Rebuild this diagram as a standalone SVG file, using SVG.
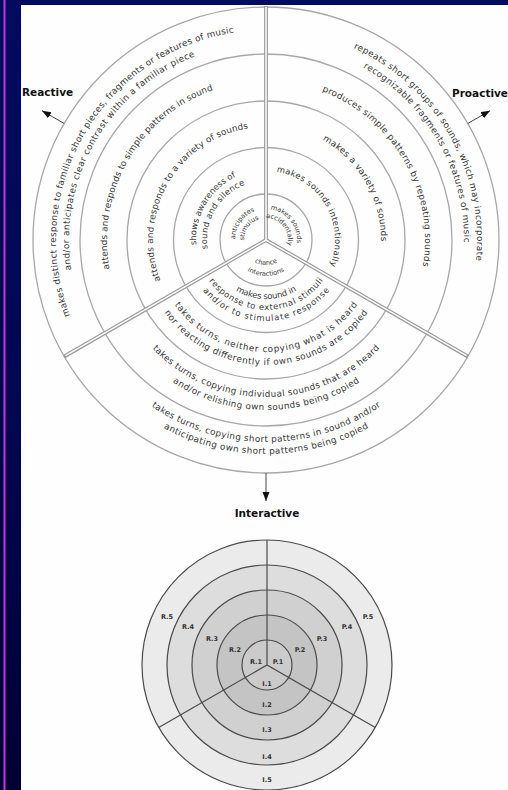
<svg xmlns="http://www.w3.org/2000/svg" width="508" height="790" viewBox="0 0 508 790">
<defs>
<linearGradient id="bg" x1="0" y1="0" x2="0" y2="1">
<stop offset="0" stop-color="#020b60"/>
<stop offset="0.5" stop-color="#010850"/>
<stop offset="1" stop-color="#000034"/>
</linearGradient>
<marker id="ah" markerUnits="userSpaceOnUse" markerWidth="10" markerHeight="8" refX="9" refY="3.5" orient="auto">
<path d="M0,0 L9,3.5 L0,7 z" fill="#111"/>
</marker>
<path id="c210" d="M59.19,276.46 A210,210 0 1 1 472.81,276.46"/>
<path id="c197" d="M71.99,274.20 A197,197 0 1 1 460.01,274.20"/>
<path id="c211" d="M58.21,276.63 A211,211 0 1 1 473.79,276.63"/>
<path id="c198" d="M71.01,274.37 A198,198 0 1 1 460.99,274.37"/>
<path id="c159" d="M109.42,267.60 A159,159 0 1 1 422.58,267.60"/>
<path id="c113" d="M154.72,259.62 A113,113 0 1 1 377.28,259.62"/>
<path id="c115" d="M152.75,259.96 A115,115 0 1 1 379.25,259.96"/>
<path id="c70" d="M197.06,252.15 A70,70 0 1 1 334.94,252.15"/>
<path id="c59" d="M207.90,250.24 A59,59 0 1 1 324.10,250.24"/>
<path id="c69" d="M198.05,251.98 A69,69 0 1 1 333.95,251.98"/>
<path id="c31" d="M235.47,245.38 A31,31 0 1 1 296.53,245.38"/>
<path id="c22" d="M244.33,243.82 A22,22 0 1 1 287.67,243.82"/>
<path id="b25" d="M241.38,235.66 A25,25 0 1 0 290.62,235.66"/>
<path id="b36" d="M230.55,233.75 A36,36 0 1 0 301.45,233.75"/>
<path id="b59" d="M207.90,229.76 A59,59 0 1 0 324.10,229.76"/>
<path id="b70" d="M197.06,227.85 A70,70 0 1 0 334.94,227.85"/>
<path id="b81" d="M186.23,225.94 A81,81 0 1 0 345.77,225.94"/>
<path id="b112" d="M155.70,220.56 A112,112 0 1 0 376.30,220.56"/>
<path id="b125" d="M142.90,218.30 A125,125 0 1 0 389.10,218.30"/>
<path id="b157" d="M111.39,212.74 A157,157 0 1 0 420.61,212.74"/>
<path id="b170" d="M98.58,210.49 A170,170 0 1 0 433.42,210.49"/>
<path id="b202" d="M67.07,204.93 A202,202 0 1 0 464.93,204.93"/>
<path id="b214" d="M55.25,202.85 A214,214 0 1 0 476.75,202.85"/>
</defs>
<style>
.ring{fill:none;stroke:#a8a8a8;stroke-width:1.3}
.divo{stroke:#9a9a9a;stroke-width:3.8;fill:none}
.divi{stroke:#ffffff;stroke-width:1.5;fill:none}
.t{font-family:"DejaVu Sans",Verdana,sans-serif;font-size:8.8px;fill:#353535}
.tm{font-family:"DejaVu Sans",Verdana,sans-serif;font-size:8.4px;fill:#353535}
.ts{font-family:"DejaVu Sans",Verdana,sans-serif;font-size:6.6px;fill:#353535}
.lab{font-family:"DejaVu Sans",Verdana,sans-serif;font-size:10.5px;font-weight:bold;fill:#111}
.arr{stroke:#444;stroke-width:1;fill:none}
.sr{stroke:#4a4a4a;stroke-width:1.2}
.sl{font-family:"DejaVu Sans",Verdana,sans-serif;font-size:6.5px;font-weight:bold;fill:#333;text-anchor:middle}
</style>
<rect x="0" y="0" width="508" height="790" fill="url(#bg)"/>
<rect x="3.5" y="0" width="2" height="790" fill="#cc33dd"/>
<rect x="21" y="5" width="487" height="785" fill="#fefefe"/>

<g id="big-wheel">
<circle class="ring" cx="266" cy="240" r="233"/>
<circle class="ring" cx="266" cy="240" r="186"/>
<circle class="ring" cx="266" cy="240" r="139"/>
<circle class="ring" cx="266" cy="240" r="92.5"/>
<circle class="ring" cx="266" cy="240" r="46"/>
<path class="divo" d="M266,6 L266,240 M64.2,356.5 L266,240 L467.8,356.5"/>
<path class="divi" d="M266,7 L266,240 M65.5,355.7 L266,240 L466.5,355.7"/>
</g>

<g id="reactive-texts" transform="rotate(-60 266 240)">
<g id="R5"><text class="t"><textPath href="#c210" startOffset="179.02" textLength="375" lengthAdjust="spacing">makes distinct response to familiar short pieces, fragments or features of music</textPath></text>
<text class="t"><textPath href="#c197" startOffset="210.33" textLength="267" lengthAdjust="spacing">and/or anticipates clear contrast within a familiar piece</textPath></text></g>
<g id="R4"><text class="t"><textPath href="#c159" startOffset="165.01" textLength="225" lengthAdjust="spacing">attends and responds to simple patterns in sound</textPath></text></g>
<g id="R3"><text class="t"><textPath href="#c113" startOffset="96.72" textLength="201" lengthAdjust="spacing">attends and responds to a variety of sounds</textPath></text></g>
<g id="R2"><text class="tm"><textPath href="#c70" startOffset="80.17" textLength="84" lengthAdjust="spacing">shows awareness of</textPath></text>
<text class="tm"><textPath href="#c59" startOffset="62.97" textLength="80" lengthAdjust="spacing">sound and silence</textPath></text></g>
</g>
<g id="R1" transform="rotate(-55 266 240)"><text class="ts"><textPath href="#c31" startOffset="50%" text-anchor="middle">anticipates</textPath></text>
<text class="ts"><textPath href="#c22" startOffset="50%" text-anchor="middle">stimulus</textPath></text></g>

<g id="proactive-texts" transform="rotate(60 266 240)">
<g id="P5"><text class="t"><textPath href="#c211" startOffset="237.26" textLength="262" lengthAdjust="spacing">repeats short groups of sounds, which may incorporate</textPath></text>
<text class="t"><textPath href="#c198" startOffset="239.58" textLength="212" lengthAdjust="spacing">recognizable fragments or features of music</textPath></text></g>
<g id="P4"><text class="t"><textPath href="#c159" startOffset="168.01" textLength="219" lengthAdjust="spacing">produces simple patterns by repeating sounds</textPath></text></g>
<g id="P3"><text class="t"><textPath href="#c115" startOffset="139.21" textLength="123" lengthAdjust="spacing">makes a variety of sounds</textPath></text></g>
<g id="P2"><text class="tm"><textPath href="#c69" startOffset="58.43" textLength="124" lengthAdjust="spacing">makes sounds intentionally</textPath></text></g>
</g>
<g id="P1" transform="rotate(52 266 240)"><text class="ts"><textPath href="#c31" startOffset="50%" text-anchor="middle">makes sounds</textPath></text>
<text class="ts"><textPath href="#c22" startOffset="50%" text-anchor="middle">accidentally</textPath></text></g>

<g id="I1"><text class="ts"><textPath href="#b25" startOffset="50%" text-anchor="middle">chance</textPath></text>
<text class="ts"><textPath href="#b36" startOffset="50%" text-anchor="middle">interactions</textPath></text></g>
<g id="I2"><text class="tm"><textPath href="#b59" startOffset="70.97" textLength="64" lengthAdjust="spacing">makes sound in</textPath></text>
<text class="tm"><textPath href="#b70" startOffset="55.67" textLength="133" lengthAdjust="spacing">response to external stimuli</textPath></text>
<text class="tm"><textPath href="#b81" startOffset="68.87" textLength="145" lengthAdjust="spacing">and/or to stimulate response</textPath></text></g>
<g id="I3"><text class="t"><textPath href="#b112" startOffset="88.48" textLength="214" lengthAdjust="spacing">takes turns, neither copying what is heard</textPath></text>
<text class="t"><textPath href="#b125" startOffset="99.17" textLength="238" lengthAdjust="spacing">nor reacting differently if own sounds are copied</textPath></text></g>
<g id="I4"><text class="t"><textPath href="#b157" startOffset="147.02" textLength="254" lengthAdjust="spacing">takes turns, copying individual sounds that are heard</textPath></text>
<text class="t"><textPath href="#b170" startOffset="197.71" textLength="198" lengthAdjust="spacing">and/or relishing own sounds being copied</textPath></text></g>
<g id="I5"><text class="t"><textPath href="#b202" startOffset="230.56" textLength="244" lengthAdjust="spacing">takes turns, copying short patterns in sound and/or</textPath></text>
<text class="t"><textPath href="#b214" startOffset="266.50" textLength="214" lengthAdjust="spacing">anticipating own short patterns being copied</textPath></text></g>

<g id="label-reactive"><text class="lab" x="22" y="96">Reactive</text></g>
<g id="label-proactive"><text class="lab" x="452" y="97">Proactive</text></g>
<g id="label-interactive"><text class="lab" x="267" y="517" text-anchor="middle">Interactive</text></g>

<g id="connectors">
<line class="arr" x1="64.2" y1="123.5" x2="42" y2="110.7" marker-end="url(#ah)"/>
<line class="arr" x1="467.8" y1="123.5" x2="490" y2="110.7" marker-end="url(#ah)"/>
<line class="arr" x1="266" y1="473" x2="266" y2="501" marker-end="url(#ah)"/>
</g>

<g id="small-wheel">
<circle class="sr" cx="267" cy="665" r="125" fill="#ebebeb"/>
<circle class="sr" cx="267" cy="665" r="100" fill="#dddddd"/>
<circle class="sr" cx="267" cy="665" r="75" fill="#d0d0d0"/>
<circle class="sr" cx="267" cy="665" r="50" fill="#c4c4c4"/>
<circle class="sr" cx="267" cy="665" r="25" fill="#cbcbcb"/>
<path class="sr" fill="none" d="M267,540 L267,665 M158.75,727.5 L267,665 L375.25,727.5"/>
</g>
<g id="small-R"><text class="sl" x="167" y="619">R.5</text><text class="sl" x="188" y="629">R.4</text><text class="sl" x="212" y="641">R.3</text><text class="sl" x="235" y="652">R.2</text><text class="sl" x="256" y="664">R.1</text></g>
<g id="small-P"><text class="sl" x="278" y="664">P.1</text><text class="sl" x="300" y="652">P.2</text><text class="sl" x="322" y="641">P.3</text><text class="sl" x="347" y="629">P.4</text><text class="sl" x="368" y="619">P.5</text></g>
<g id="small-I"><text class="sl" x="267" y="686">I.1</text><text class="sl" x="267" y="707">I.2</text><text class="sl" x="267" y="732">I.3</text><text class="sl" x="267" y="759">I.4</text><text class="sl" x="267" y="782">I.5</text></g>
</svg>
